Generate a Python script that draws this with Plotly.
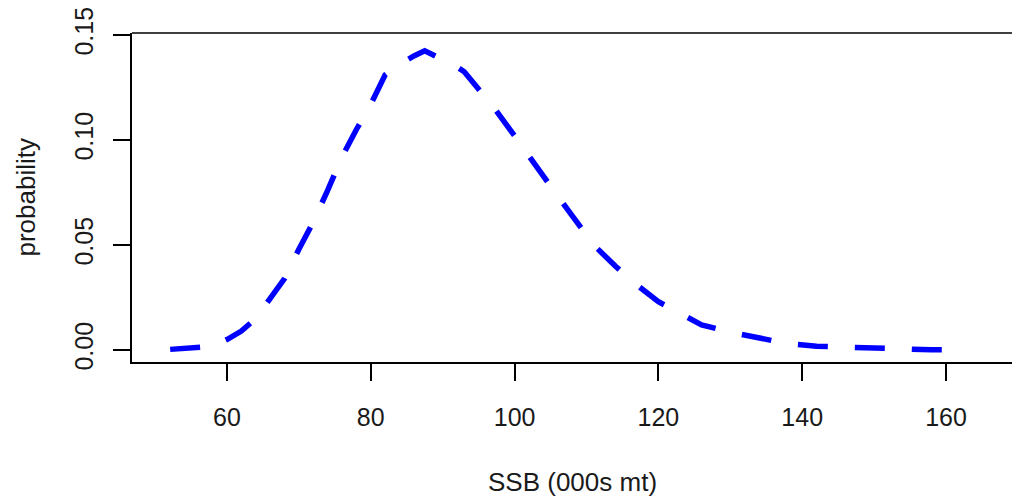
import plotly.graph_objects as go

ssb = [52.1, 55, 58, 60, 62, 64, 66, 68, 70, 72, 74, 76, 78, 80, 82, 84, 86, 87.5,
       89, 91, 93, 95, 97, 100, 102, 105, 108, 111, 114, 117, 120, 123, 126, 130,
       134, 138, 142, 146, 150, 154, 158, 162.6]
prob = [0.0003, 0.0008, 0.0018, 0.005, 0.009, 0.015, 0.024, 0.034, 0.048, 0.061,
        0.076, 0.092, 0.105, 0.117, 0.131, 0.136, 0.140, 0.1425, 0.140, 0.137,
        0.1325, 0.124, 0.116, 0.102, 0.092, 0.078, 0.064, 0.050, 0.040, 0.031,
        0.023, 0.0175, 0.012, 0.0085, 0.0055, 0.0030, 0.0018, 0.0014, 0.0006,
        0.0002, 0.0001, 0.0]
x_ticks = [60, 80, 100, 120, 140, 160]
y_ticks = [0.00, 0.05, 0.10, 0.15]
y_tick_labels = ["0.00", "0.05", "0.10", "0.15"]

FONT = "Liberation Sans, Arial, sans-serif"

fig = go.Figure()
fig.add_trace(go.Scatter(
    x=ssb, y=prob, mode="lines",
    line=dict(color="#0000FF", width=5.5, dash="30px,27px"),
    showlegend=False, hoverinfo="skip",
))

fig.update_layout(
    width=1012, height=499,
    margin=dict(l=132, r=0, t=33, b=137),
    paper_bgcolor="white", plot_bgcolor="white",
    font=dict(family=FONT, size=25, color="#000000"),
    xaxis=dict(
        range=[46.79, 169.18], tickvals=x_ticks, ticktext=[str(v) for v in x_ticks],
        showgrid=False, zeroline=False, showline=True, linecolor="#000000", linewidth=1.5,
        ticks="outside", ticklen=17, tickwidth=1.5, tickcolor="#000000",
        ticklabelstandoff=15, automargin=False,
        tickfont=dict(size=25, family=FONT, color="#1a1a1a"),
    ),
    yaxis=dict(
        range=[-0.00571, 0.15095], tickvals=y_ticks, ticktext=y_tick_labels,
        showgrid=False, zeroline=False, showline=True, linecolor="#000000", linewidth=1.5,
        ticks="outside", ticklen=17, tickwidth=1.5, tickcolor="#000000",
        tickangle=-90, ticklabelstandoff=10, automargin=False,
        tickfont=dict(size=25, family=FONT, color="#1a1a1a"),
    ),
    shapes=[dict(type="line", xref="paper", yref="paper", x0=0, x1=1, y0=1, y1=1,
                 line=dict(color="#000000", width=1.5))],
    annotations=[
        dict(text="SSB (000s mt)", xref="paper", yref="paper", x=0.5, y=0,
             yshift=-120, xanchor="center", yanchor="middle", showarrow=False,
             font=dict(size=26, family=FONT, color="#1a1a1a")),
        dict(text="probability", xref="paper", yref="paper", x=0, y=0.5,
             xshift=-107, xanchor="center", yanchor="middle", textangle=-90,
             showarrow=False, font=dict(size=26, family=FONT, color="#1a1a1a")),
    ],
)

fig.write_html(
    "out.html",
    config={"displayModeBar": False},
    post_script="document.body.style.margin='0';document.body.style.overflow='hidden';",
)
